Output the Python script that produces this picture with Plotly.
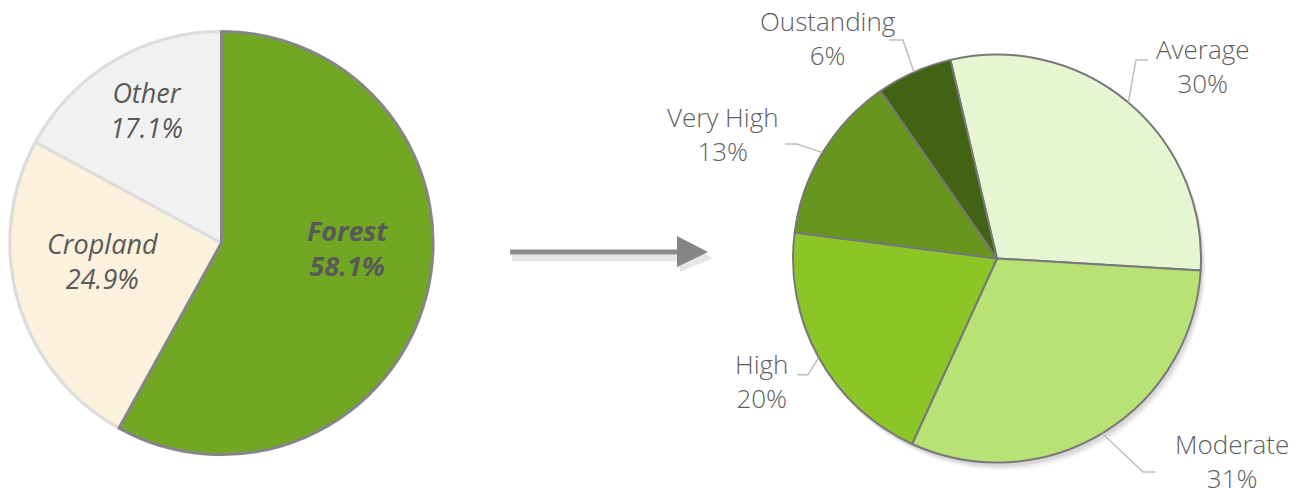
import math
import plotly.graph_objects as go

W, H = 1308, 492

# ---- data ----
land_labels = ["Cropland", "Other", "Forest"]
land_values = [24.9, 17.1, 58.1]
land_colors = ["#fcf1dc", "#f1f1f1", "#71a722"]
land_line_colors = ["#dcdcdc", "#dcdcdc", "#858585"]
land_bold = [False, False, True]
# label placement inside the left pie: (angle clockwise from 12 o'clock, radius fraction)
land_label_pos = [(261.4, 0.567), (330.7, 0.72), (92.3, 0.596)]

cls_labels = ["Average", "Moderate", "High", "Very High", "Oustanding"]
cls_values = [29.6, 30.9, 20.2, 13.3, 6.0]
cls_colors = ["#e6f5d2", "#b9e275", "#8bc626", "#67951e", "#426314"]
# leader-line elbow (angle, radius factor), horizontal run, text-centre offset from run end
cls_label_layout = [
    (35.0, 1.188, 12, 55, 6),
    (145.6, 1.268, 12, 77, -11),
    (238.4, 1.088, -11, -35, 6),
    (299.8, 1.130, -12, -62, -10),
    (336.7, 1.166, -14, -61, -2),
]

# ---- geometry (pixels) ----
L_BOX = (10, 433, 31, 455)      # x0, x1, ytop, ybottom
R_BOX = (793, 1201, 54, 463)

def px(x):
    return x / W

def py(y):
    return 1 - y / H

land_start = 360 - 360 * (land_values[0] + land_values[1]) / sum(land_values)
cls_start = -13.2

TXT = "#595959"
fig = go.Figure()

rcx = (R_BOX[0] + R_BOX[1]) / 2
rcy = (R_BOX[2] + R_BOX[3]) / 2
rr = (R_BOX[1] - R_BOX[0]) / 2
lcx = (L_BOX[0] + L_BOX[1]) / 2
lcy = (L_BOX[2] + L_BOX[3]) / 2
lr = (L_BOX[1] - L_BOX[0]) / 2

shapes = []
# soft shadow under right pie
for k, a in [(8, 0.035), (6, 0.05), (4, 0.07)]:
    shapes.append(dict(type="circle", xref="paper", yref="paper", layer="below",
                       x0=px(rcx - rr + k * 0.6), x1=px(rcx + rr + k * 0.6),
                       y0=py(rcy + rr + k), y1=py(rcy - rr + k),
                       fillcolor=f"rgba(0,0,0,{a})", line=dict(width=0)))
# faint halo around left pie
shapes.append(dict(type="circle", xref="paper", yref="paper", layer="below",
                   x0=px(lcx - lr - 2), x1=px(lcx + lr + 2),
                   y0=py(lcy + lr + 2), y1=py(lcy - lr - 2),
                   fillcolor="rgba(0,0,0,0.05)", line=dict(width=0)))

fig.add_trace(go.Pie(
    labels=land_labels, values=land_values, sort=False, direction="clockwise",
    rotation=land_start,
    domain=dict(x=[px(L_BOX[0]), px(L_BOX[1])], y=[py(L_BOX[3]), py(L_BOX[2])]),
    marker=dict(colors=land_colors, line=dict(color=land_line_colors, width=3)),
    textinfo="none", hoverinfo="label+value", showlegend=False,
))
fig.add_trace(go.Pie(
    labels=cls_labels, values=cls_values, sort=False, direction="clockwise",
    rotation=cls_start,
    domain=dict(x=[px(R_BOX[0]), px(R_BOX[1])], y=[py(R_BOX[3]), py(R_BOX[2])]),
    marker=dict(colors=cls_colors, line=dict(color="#787878", width=2)),
    textinfo="none", hoverinfo="label+value", showlegend=False,
))

annotations = []
# left pie labels
for lab, v, b, (ang, f) in zip(land_labels, land_values, land_bold, land_label_pos):
    t = math.radians(ang)
    x = lcx + f * lr * math.sin(t)
    y = lcy - f * lr * math.cos(t)
    txt = f"<i>{lab}<br>{v:.1f}%</i>"
    if b:
        txt = f"<b>{txt}</b>"
    annotations.append(dict(
        x=px(x), y=py(y), xref="paper", yref="paper", text=txt, showarrow=False,
        align="center", xanchor="center", yanchor="middle",
        font=dict(family="Open Sans", size=27, color=TXT, weight=400),
    ))

# leader lines + labels for the right pie
total = sum(cls_values)
acc = 0
for lab, v, (eang, ef, run, tdx, tdy) in zip(cls_labels, cls_values, cls_label_layout):
    mid = cls_start + 360 * (acc + v / 2) / total
    acc += v
    t = math.radians(mid)
    ex, ey = rcx + rr * math.sin(t), rcy - rr * math.cos(t)
    te = math.radians(eang)
    bx, by = rcx + ef * rr * math.sin(te), rcy - ef * rr * math.cos(te)
    hx = bx + run
    shapes.append(dict(type="path", xref="paper", yref="paper",
                       path=f"M {px(ex)} {py(ey)} L {px(bx)} {py(by)} L {px(hx)} {py(by)}",
                       line=dict(color="#bdbdbd", width=1.5)))
    annotations.append(dict(
        x=px(hx + tdx), y=py(by + tdy), xref="paper", yref="paper",
        text=f"{lab}<br>{round(v)}%", showarrow=False, align="center",
        xanchor="center", yanchor="middle",
        font=dict(family="Open Sans", size=26, color="#5f5f5f", weight=300),
    ))

# arrow between the pies
shapes.append(dict(type="line", xref="paper", yref="paper",
                   x0=px(512), x1=px(684), y0=py(258), y1=py(258),
                   line=dict(color="rgba(0,0,0,0.10)", width=7)))
shapes.append(dict(type="path", xref="paper", yref="paper",
                   path=f"M {px(680)} {py(241)} L {px(713)} {py(258)} L {px(680)} {py(272)} Z",
                   fillcolor="rgba(0,0,0,0.10)", line=dict(width=0)))
shapes.append(dict(type="line", xref="paper", yref="paper",
                   x0=px(510), x1=px(682), y0=py(252), y1=py(252),
                   line=dict(color="#8a8a8a", width=5)))
shapes.append(dict(type="path", xref="paper", yref="paper",
                   path=f"M {px(677)} {py(236)} L {px(708)} {py(252)} L {px(677)} {py(267)} Z",
                   fillcolor="#858585", line=dict(width=0)))

fig.update_layout(
    width=W, height=H, autosize=False,
    margin=dict(l=0, r=0, t=0, b=0),
    paper_bgcolor="white", plot_bgcolor="white",
    shapes=shapes, annotations=annotations,
)

fig.write_html("out.html", config={"displayModeBar": False},
               post_script="document.body.style.margin='0';document.body.style.overflow='hidden';")
